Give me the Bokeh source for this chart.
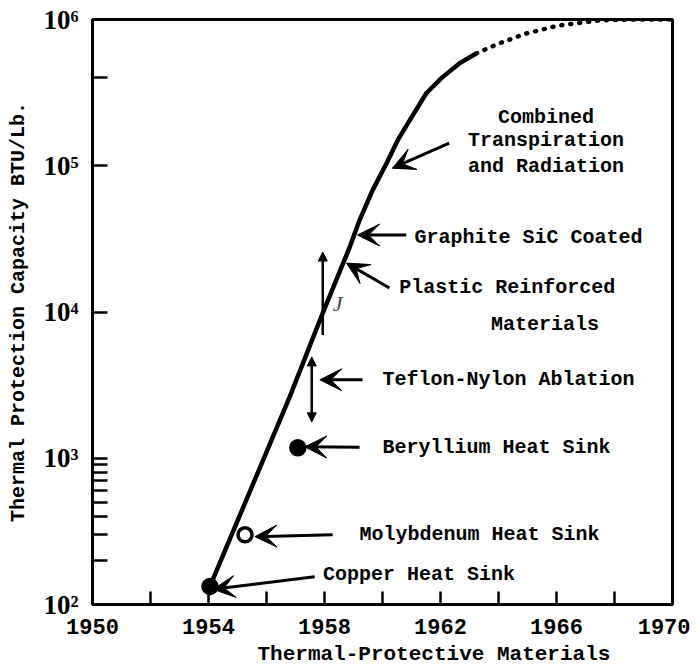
from bokeh.plotting import figure
from bokeh.models import (Arrow, VeeHead, NormalHead, Label, LabelSet, FixedTicker,
                          ColumnDataSource, Title)
from bokeh.core.properties import value
from bokeh.embed import file_html
from bokeh.resources import INLINE

# ---------------- data ----------------
# main trend curve (solid, observed)
years_solid = [1954.05, 1956.80, 1957.94, 1958.87, 1959.21, 1959.66, 1960.14,
               1960.52, 1961.00, 1961.51, 1962.06, 1962.65, 1963.23]
cap_solid = [133, 2630, 9840, 27800, 42500, 68100, 104000,
             149000, 214000, 313000, 402000, 501000, 586000]
# projection (dotted)
years_proj = [1963.23, 1964.02, 1964.95, 1966.08, 1967.46, 1968.80, 1970.0]
cap_proj = [586000, 686000, 802000, 910000, 985000, 1000000, 1000000]

# heat-sink points
point_years = [1954.05, 1955.26, 1957.08]
point_caps = [133, 300, 1180]
point_fill = ["black", "white", "black"]

# one-line annotations
ann_text = ["Copper Heat Sink", "Molybdenum Heat Sink", "Beryllium Heat Sink",
            "Teflon-Nylon Ablation", "Graphite SiC Coated"]
ann_text_x = [1957.95, 1959.21, 1960.0, 1960.0, 1961.10]
ann_text_y = [160, 300, 1190, 3440, 32500]
ann_tail_x = [1957.66, 1958.28, 1959.21, 1959.31, 1960.82]
ann_tail_y = [155, 300, 1190, 3440, 33600]
ann_tip_x = [1954.16, 1955.60, 1957.32, 1957.84, 1959.14]
ann_tip_y = [127, 291, 1197, 3440, 33600]

# multi-line (centred) annotations
block_text = ["Combined", "Transpiration", "and Radiation",
              "Plastic Reinforced", "Materials"]
block_x = [1965.64, 1965.64, 1965.64, 1964.30, 1965.60]
block_y = [214000, 149000, 99300, 14800, 8150]
block_tail_x = [1962.30, 1960.24]
block_tail_y = [142600, 14600]
block_tip_x = [1960.34, 1958.76]
block_tip_y = [96200, 21600]

# vertical range arrows
range_x = [1957.56, 1957.94]
range_lo = [1774, 6970]
range_hi = [4930, 25700]

x_major = [1950, 1954, 1958, 1962, 1966, 1970]
x_minor = [1952, 1956, 1960, 1964, 1968]
y_major = [100, 1000, 10000, 100000, 1000000]
y_minor = [200, 300, 400, 500, 600, 700, 800, 900, 400000]
y_labels = ["10²", "10³", "10⁴", "10⁵", "10⁶"]

MONO = "Liberation Mono"

p = figure(width=690, height=670, x_range=(1950, 1970), y_range=(100, 1e6),
           y_axis_type="log", output_backend="svg", toolbar_location=None,
           min_border_left=92, min_border_right=18, min_border_top=19,
           min_border_bottom=65)
p.xgrid.visible = False
p.ygrid.visible = False
p.outline_line_color = "black"
p.outline_line_width = 3
p.background_fill_color = "white"
p.border_fill_color = "white"

# axes
xa = p.xaxis[0]
xa.ticker = FixedTicker(ticks=x_major, minor_ticks=x_minor)
xa.major_label_overrides = {v: str(v) for v in x_major}
xa.axis_line_width = 3
xa.major_tick_in = 13
xa.major_tick_out = 0
xa.minor_tick_in = 13
xa.minor_tick_out = 0
xa.major_tick_line_width = 2.5
xa.minor_tick_line_width = 2.5
xa.major_label_standoff = 14
xa.major_label_text_font = MONO
xa.major_label_text_font_style = "bold"
xa.major_label_text_font_size = "22px"
xa.major_label_text_color = "black"

ya = p.yaxis[0]
ya.ticker = FixedTicker(ticks=y_major, minor_ticks=y_minor)
ya.major_label_overrides = {v: s for v, s in zip(y_major, y_labels)}
ya.axis_line_width = 3
ya.major_tick_in = 15
ya.major_tick_out = 0
ya.minor_tick_in = 15
ya.minor_tick_out = 0
ya.major_tick_line_width = 2.5
ya.minor_tick_line_width = 2.5
ya.major_label_standoff = 14
ya.major_label_text_font = "Liberation Serif"
ya.major_label_text_font_style = "bold"
ya.major_label_text_font_size = "27px"
ya.major_label_text_color = "black"
ya.axis_label = "Thermal Protection Capacity BTU/Lb."
ya.axis_label_text_font = MONO
ya.axis_label_text_font_style = "bold"
ya.axis_label_text_font_size = "20px"
ya.axis_label_text_color = "black"
ya.axis_label_standoff = 10

# x-axis title (shifted right as in the original)
p.add_layout(Title(text="Thermal-Protective Materials", align="left", offset=165,
                   standoff=9, text_font=MONO, text_font_style="bold",
                   text_font_size="21px", text_color="black"), "below")

# curve
p.line(years_solid, cap_solid, line_width=4.5, line_color="black")
p.line(years_proj, cap_proj, line_width=4.5, line_color="black",
       line_dash="1 8", line_cap="round")

# points
p.scatter(point_years, point_caps, size=14, fill_color=point_fill,
          line_color="black", line_width=3.5)

# arrows
arr_src = ColumnDataSource(dict(x0=ann_tail_x + block_tail_x, y0=ann_tail_y + block_tail_y,
                                x1=ann_tip_x + block_tip_x, y1=ann_tip_y + block_tip_y))
p.add_layout(Arrow(end=VeeHead(size=22, fill_color="black", line_color="black"),
                   x_start="x0", y_start="y0", x_end="x1", y_end="y1",
                   source=arr_src, line_width=3, line_color="black"))

# vertical range arrows
p.add_layout(Arrow(end=NormalHead(size=9, fill_color="black", line_color="black"),
                   start=NormalHead(size=9, fill_color="black", line_color="black"),
                   x_start="x", y_start="lo", x_end="x", y_end="hi",
                   source=ColumnDataSource(dict(x=range_x[:1], lo=range_lo[:1], hi=range_hi[:1])),
                   line_width=2.5, line_color="black"))
p.add_layout(Arrow(end=NormalHead(size=9, fill_color="black", line_color="black"),
                   x_start="x", y_start="lo", x_end="x", y_end="hi",
                   source=ColumnDataSource(dict(x=range_x[1:], lo=range_lo[1:], hi=range_hi[1:])),
                   line_width=2.5, line_color="black"))

# texts
p.add_layout(LabelSet(x="x", y="y", text="t",
                      source=ColumnDataSource(dict(x=ann_text_x, y=ann_text_y, t=ann_text)),
                      text_align="left", text_baseline="middle",
                      text_font=value(MONO), text_font_style="bold",
                      text_font_size="20px", text_color="black"))
p.add_layout(LabelSet(x="x", y="y", text="t",
                      source=ColumnDataSource(dict(x=block_x, y=block_y, t=block_text)),
                      text_align="center", text_baseline="middle",
                      text_font=value(MONO), text_font_style="bold",
                      text_font_size="20px", text_color="black"))

# hand mark
p.add_layout(Label(x=1958.45, y=11500, text="J", text_align="center",
                   text_baseline="middle", text_font="Liberation Serif",
                   text_font_style="italic", text_font_size="22px"))

open("out.html", "w").write(file_html(p, INLINE))
